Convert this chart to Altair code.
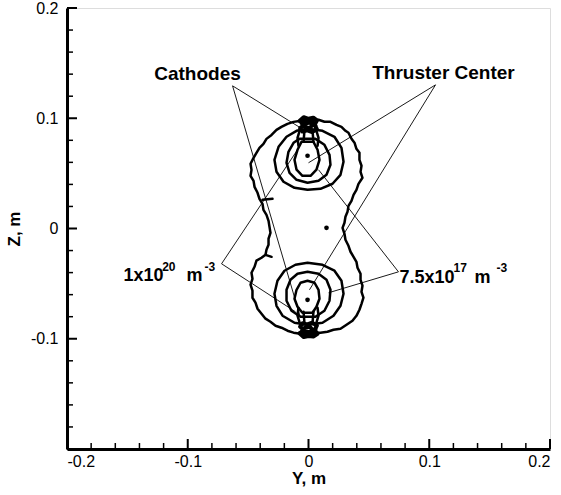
import altair as alt
import pandas as pd

# ---------------- data (Y, Z in millimetres; plotted in metres) ----------------
outer_y = [-1.7, 3.3, 8.3, 13.2, 18.2, 23.2, 27.3, 30.6, 33.1, 35.6, 38.1, 39.7, 42.2, 42.2, 43.9, 43.1, 44.7, 41.4,
           39.7, 37.3, 35.6, 33.1, 32.3, 30.6, 29.8, 28.2, 29.8, 30.6, 33.1, 34.8, 37.3, 39.7, 40.6, 43.1, 43.1,
           44.7, 43.9, 45.5, 43.9, 42.2, 39.7, 36.4, 31.5, 26.5, 20.7, 15.7, 9.9, 4.1, -0.8,
           -6.6, -12.4, -17.4, -22.4, -27.3, -31.5, -35.6, -38.9, -42.2, -43.9, -46.4, -46.4, -48.0, -46.4, -47.2,
           -44.7, -43.1, -38.9, -35.6, -34.8, -33.1, -33.1, -31.5, -32.3, -33.1, -34.8, -37.3, -38.1, -40.6, -42.2,
           -44.7, -45.5, -48.0, -47.2, -48.0, -45.5, -43.1, -40.6, -37.3, -34.8, -30.6, -26.5, -22.4, -17.4, -12.4,
           -7.5, -1.7]
outer_z = [99.5, 97.7, 98.6, 96.8, 96.8, 94.0, 92.2, 88.6, 86.8, 81.4, 77.8, 72.3, 68.7, 62.3, 56.9, 51.4, 46.0, 40.5,
           35.1, 30.5, 25.1, 20.5, 15.1, 10.6, 5.2, 0.6, -4.8, -10.2, -15.7, -21.1, -25.7, -30.2, -35.6, -41.1, -46.5,
           -51.9, -57.4, -62.8, -68.3, -73.7, -79.2, -83.7, -87.3, -90.9, -91.8, -93.6, -94.5, -94.5, -96.4,
           -95.5, -94.5, -92.7, -90.0, -88.2, -84.6, -81.8, -77.3, -72.8, -67.3, -62.8, -56.4, -51.0, -45.6, -40.1,
           -34.7, -29.2, -26.5, -23.8, -19.3, -14.8, -9.3, -3.9, 1.5, 7.0, 12.4, 16.9, 22.4, 26.9, 32.4,
           37.8, 43.2, 47.8, 53.2, 58.7, 64.1, 68.6, 73.2, 76.8, 81.3, 84.9, 89.5, 92.2, 94.9, 96.7,
           97.6, 99.5]

spur1_y = [-38.1, -29.8]
spur1_z = [26.0, 26.9]
spur2_y = [-35.6, -30.6]
spur2_z = [-23.9, -25.7]

# upper thruster rings
topA_y = [-0.8, 11.6, 21.5, 27.3, 29.0, 26.5, 19.9, 9.9, -0.8, -11.6, -20.7, -26.5, -28.2, -24.8, -18.2, -9.9, -0.8]
topA_z = [90.4, 88.6, 83.2, 73.2, 60.5, 48.7, 40.6, 36.0, 35.1, 36.9, 42.4, 51.4, 62.3, 74.1, 83.2, 88.6, 90.4]
topB_y = [-7.5, 5.8, 13.2, 17.4, 18.2, 14.9, 8.3, -0.8, -9.9, -15.7, -18.2, -16.6, -12.4, -7.5]
topB_z = [81.3, 81.3, 75.9, 66.8, 57.8, 48.7, 43.3, 41.5, 44.2, 50.5, 59.6, 69.6, 77.7, 81.3]
topC_y = [-5.8, 4.1, 7.5, 9.1, 6.6, 1.7, -5.0, -9.9, -11.6, -9.1, -5.8]
topC_z = [78.6, 78.6, 71.4, 62.3, 53.3, 47.8, 47.8, 53.3, 62.3, 71.4, 78.6]

# lower thruster rings
botA_y = [-0.8, 11.6, 21.5, 27.3, 29.0, 26.5, 20.7, 11.6, -0.8, -11.6, -21.5, -26.5, -28.2, -25.7, -19.9, -10.8, -0.8]
botA_z = [-31.1, -32.9, -38.3, -47.4, -59.2, -70.1, -79.1, -85.5, -87.3, -85.5, -79.1, -70.1, -59.2, -47.4, -38.3,
          -32.9, -31.1]
botB_y = [-0.8, 8.3, 14.9, 18.2, 17.4, 13.2, 5.8, -6.6, -14.1, -18.2, -18.2, -14.9, -9.1, -0.8]
botB_z = [-39.3, -41.1, -46.5, -55.6, -65.5, -74.6, -80.0, -80.0, -74.6, -65.5, -55.6, -46.5, -41.1, -39.3]
botC_y = [-0.8, 5.0, 8.3, 9.1, 6.6, 3.3, -5.0, -9.1, -11.6, -9.9, -6.6, -0.8]
botC_z = [-47.4, -49.2, -55.6, -63.7, -71.0, -76.4, -76.4, -71.0, -63.7, -55.6, -49.2, -47.4]

# cathode clusters (dense tangles of contour lines)
cathT_y = [-7.5, -4.0, 0.0, 4.0, 7.0, 5.0, 7.0, 3.0, -1.0, -5.0, -7.0, -4.0, 0.0, 4.0, 1.0, -3.0, -6.0, 2.0, 6.0]
cathT_z = [97.6, 101.0, 99.5, 100.5, 98.0, 94.0, 90.0, 87.5, 89.0, 88.0, 91.0, 94.0, 96.0, 95.0, 91.0, 92.0, 96.0,
           98.0, 93.0]
cathB_y = [-7.5, -4.0, 0.0, 4.0, 7.5, 5.0, 7.0, 3.0, -1.0, -5.0, -7.0, -4.0, 0.0, 4.0, 1.0, -3.0, -6.0, 2.0, 6.0]
cathB_z = [-95.0, -98.5, -97.5, -98.0, -95.5, -92.0, -88.0, -85.5, -87.0, -86.0, -89.0, -92.0, -94.0, -93.0, -89.0,
           -90.0, -94.0, -96.0, -91.0]
legT1_y = [-6.6, -9.1, -8.3]; legT1_z = [91.3, 82.2, 75.0]
legT2_y = [-3.3, -4.1];       legT2_z = [89.5, 78.6]
legT3_y = [3.3, 4.1];         legT3_z = [89.5, 78.6]
legT4_y = [5.8, 8.3, 7.5];    legT4_z = [91.3, 82.2, 75.0]
legB1_y = [-6.6, -9.1, -8.3]; legB1_z = [-88.2, -79.1, -71.9]
legB2_y = [-3.3, -4.1];       legB2_z = [-86.4, -75.5]
legB3_y = [3.3, 4.1];         legB3_z = [-86.4, -75.5]
legB4_y = [5.8, 8.3, 7.5];    legB4_z = [-88.2, -79.1, -71.9]

dot_y = [-0.8, -0.8, 14.9]
dot_z = [66.0, -64.7, 0.6]

# annotation leader lines: (from label) -> (target)
lead_y0 = [-62.9, -62.9, 105.2, 105.2, -72.0, -72.0, 74.5, 74.5]
lead_z0 = [129.4, 129.4, 130.3, 130.3, -32.0, -32.0, -39.3, -39.3]
lead_y1 = [-6.6, -6.6, 0.0, 0.8, -9.1, -10.8, 8.3, 16.6]
lead_z1 = [91.3, -81.0, 59.6, -55.6, 71.4, -75.5, 53.3, -58.3]

label_text = ["Cathodes", "Thruster Center"]
label_y = [-91.9, 111.8]
label_z = [140.3, 141.2]

dens_text = ["1x10", "m", "7.5x10", "m"]
dens_y = [-153.2, -101.0, 75.4, 137.5]
dens_z = [-47.4, -47.4, -49.2, -49.2]
sup_text = ["20", "-3", "17", "-3"]
sup_y = [-121.2, -86.1, 120.1, 155.7]
sup_z = [-38.3, -38.3, -39.3, -39.3]

major_ticks = [-0.2, -0.1, 0.0, 0.1, 0.2]
minor_ticks = [-0.18, -0.16, -0.14, -0.12, -0.08, -0.06, -0.04, -0.02,
               0.02, 0.04, 0.06, 0.08, 0.12, 0.14, 0.16, 0.18]
y_label_ticks = [-0.1, 0.0, 0.1, 0.2]

MM = 1000.0

# ---------------- tables ----------------
def path_rows(items):
    rows = []
    for name, ys, zs in items:
        for i, (a, b) in enumerate(zip(ys, zs)):
            rows.append({"c": name, "i": i, "y": a / MM, "z": b / MM})
    return pd.DataFrame(rows)

cont_df = path_rows([
    ("outer", outer_y, outer_z), ("spur1", spur1_y, spur1_z), ("spur2", spur2_y, spur2_z),
    ("topA", topA_y, topA_z), ("topB", topB_y, topB_z), ("topC", topC_y, topC_z),
    ("botA", botA_y, botA_z), ("botB", botB_y, botB_z), ("botC", botC_y, botC_z),
    ("legT1", legT1_y, legT1_z), ("legT2", legT2_y, legT2_z), ("legT3", legT3_y, legT3_z), ("legT4", legT4_y, legT4_z),
    ("legB1", legB1_y, legB1_z), ("legB2", legB2_y, legB2_z), ("legB3", legB3_y, legB3_z), ("legB4", legB4_y, legB4_z),
])
cath_df = path_rows([("cT", cathT_y, cathT_z), ("cB", cathB_y, cathB_z)])

def mm(v):
    return [x / MM for x in v]

dot_df = pd.DataFrame({"y": mm(dot_y), "z": mm(dot_z)})
lead_df = pd.DataFrame({"y": mm(lead_y0), "z": mm(lead_z0), "y2": mm(lead_y1), "z2": mm(lead_z1)})
lab_df = pd.DataFrame({"t": label_text, "y": mm(label_y), "z": mm(label_z)})
dens_df = pd.DataFrame({"t": dens_text, "y": mm(dens_y), "z": mm(dens_z)})
sup_df = pd.DataFrame({"t": sup_text, "y": mm(sup_y), "z": mm(sup_z)})
maj_df = pd.DataFrame({"v": major_ticks})
min_df = pd.DataFrame({"v": minor_ticks})

W, H = 483, 441
FONT = "Liberation Sans"
sc = alt.Scale(domain=[-0.2, 0.2], nice=False, zero=False)
lab_expr = "datum.value == 0 ? '0' : (datum.value < 0 ? '-' : '') + format(abs(datum.value), '.1f')"

x_axis = alt.Axis(values=major_ticks, labelExpr=lab_expr, ticks=False, grid=False, domainWidth=3,
                  domainColor="black", labelFont=FONT, labelFontSize=16, labelColor="black", labelPadding=4,
                  title="Y, m", titleFont=FONT, titleFontSize=17, titleFontWeight="bold", titleColor="black",
                  titlePadding=1)
y_axis = alt.Axis(values=y_label_ticks, labelExpr=lab_expr, ticks=False, grid=False, domainWidth=3,
                  domainColor="black", labelFont=FONT, labelFontSize=16, labelColor="black", labelPadding=9,
                  title="Z, m", titleFont=FONT, titleFontSize=17, titleFontWeight="bold", titleColor="black",
                  titlePadding=7)

X = alt.X("y:Q", scale=sc, axis=x_axis)
Y = alt.Y("z:Q", scale=sc, axis=y_axis)

cont = alt.Chart(cont_df).mark_line(color="black", strokeWidth=2.5, strokeJoin="round", strokeCap="round").encode(
    x=X, y=Y, detail="c:N", order="i:Q")
cath = alt.Chart(cath_df).mark_line(color="black", strokeWidth=4, strokeJoin="round", strokeCap="round").encode(
    x=X, y=Y, detail="c:N", order="i:Q")
dots = alt.Chart(dot_df).mark_point(filled=True, color="black", size=22, opacity=1).encode(x=X, y=Y)
leads = alt.Chart(lead_df).mark_rule(color="black", strokeWidth=0.9).encode(
    x=X, y=Y, x2="y2:Q", y2="z2:Q")
labs = alt.Chart(lab_df).mark_text(font=FONT, fontSize=19, fontWeight="bold", color="black",
                                   align="center", baseline="middle").encode(x=X, y=Y, text="t:N")
dens = alt.Chart(dens_df).mark_text(font=FONT, fontSize=18, fontWeight="bold", color="black",
                                    align="left", baseline="alphabetic").encode(x=X, y=Y, text="t:N")
sups = alt.Chart(sup_df).mark_text(font=FONT, fontSize=12, fontWeight="bold", color="black",
                                   align="left", baseline="alphabetic").encode(x=X, y=Y, text="t:N")

bx_maj = alt.Chart(maj_df).mark_rule(color="black", strokeWidth=2).encode(
    x=alt.X("v:Q", scale=sc, axis=x_axis), y=alt.value(H), y2=alt.value(H - 10))
bx_min = alt.Chart(min_df).mark_rule(color="black", strokeWidth=1.5).encode(
    x=alt.X("v:Q", scale=sc, axis=x_axis), y=alt.value(H), y2=alt.value(H - 6))
ly_maj = alt.Chart(maj_df).mark_rule(color="black", strokeWidth=2).encode(
    y=alt.Y("v:Q", scale=sc, axis=y_axis), x=alt.value(0), x2=alt.value(10))
ly_min = alt.Chart(min_df).mark_rule(color="black", strokeWidth=1.5).encode(
    y=alt.Y("v:Q", scale=sc, axis=y_axis), x=alt.value(0), x2=alt.value(6))

chart = alt.layer(cont, cath, dots, leads, labs, dens, sups, bx_maj, bx_min, ly_maj, ly_min).properties(
    width=W, height=H,
    autosize=alt.AutoSizeParams(type="none"),
    padding={"left": 67, "top": 8, "right": 11, "bottom": 46},
).configure_view(stroke="black", strokeWidth=2).configure(background="white")

chart.save("out.html", embed_options={"renderer": "svg", "actions": False})
